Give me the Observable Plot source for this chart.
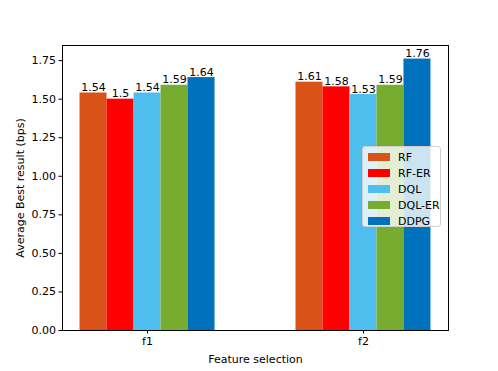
<!DOCTYPE html>
<html>
<head>
<meta charset="utf-8">
<script src="https://cdn.jsdelivr.net/npm/d3@7"></script>
<script src="https://cdn.jsdelivr.net/npm/@observablehq/plot@0.6"></script>
<style>
  body { margin: 0; background: white; }
  #wrap { position: relative; width: 498px; height: 371px; font-family: "DejaVu Sans", sans-serif; }
  #legend { position: absolute; left: 362px; top: 146px; width: 79px; height: 81px; box-sizing: border-box;
    background: rgba(255,255,255,0.8); border: 1px solid #d0d0d0; border-radius: 3px; font-size: 11px; }
  .row { position: absolute; left: 5px; height: 16px; display: flex; align-items: center; }
  .sw { width: 22px; height: 8px; margin-right: 8px; }
</style>
</head>
<body>
<div id="wrap"><div id="legend"></div></div>
<script>
const groups = ["f1", "f2"];
const series = ["RF", "RF-ER", "DQL", "DQL-ER", "DDPG"];
const colors = ["#D95319", "#FF0000", "#4DBEEE", "#77AC30", "#0072BD"];
const valuesF1 = [1.54, 1.5, 1.54, 1.59, 1.64];
const valuesF2 = [1.61, 1.58, 1.53, 1.59, 1.76];
const yTicks = [0, 0.25, 0.5, 0.75, 1.0, 1.25, 1.5, 1.75];

const groupValues = [valuesF1, valuesF2];
const w = 0.125;
const data = groups.flatMap((g, gi) => series.map((s, si) => ({
  group: g, series: s, value: groupValues[gi][si],
  x1: gi + (si - 2.5) * w, x2: gi + (si - 1.5) * w, xc: gi + (si - 2) * w
})));

const chart = Plot.plot({
  width: 498, height: 371,
  marginLeft: 62, marginRight: 50, marginTop: 45, marginBottom: 41,
  x: {domain: [-0.39375, 1.39375]},
  y: {domain: [0, 1.848]},
  color: {domain: series, range: colors},
  style: {fontFamily: "DejaVu Sans", fontSize: "11px", color: "black", background: "white"},
  marks: [
    Plot.rectY(data, {x1: "x1", x2: "x2", y1: 0, y2: "value", fill: "series", inset: 0}),
    Plot.text(data, {x: "xc", y: "value", text: d => String(d.value), dy: -2, lineAnchor: "bottom", fill: "black"}),
    Plot.frame({stroke: "black", strokeWidth: 1}),
    Plot.axisY({ticks: yTicks, tickFormat: d => d.toFixed(2), tickSize: 3.5, tickPadding: 3,
      label: "Average Best result (bps)", labelAnchor: "center", labelArrow: "none", labelOffset: 46}),
    Plot.axisX({ticks: [0, 1], tickFormat: i => groups[i], tickSize: 3.5, tickPadding: 3,
      label: "Feature selection", labelAnchor: "center", labelArrow: "none", labelOffset: 32})
  ]
});
document.getElementById("wrap").prepend(chart);

const legend = document.getElementById("legend");
series.forEach((s, i) => {
  const row = document.createElement("div");
  row.className = "row";
  row.style.top = (2 + i * 16) + "px";
  row.innerHTML = `<div class="sw" style="background:${colors[i]}"></div><span>${s}</span>`;
  legend.appendChild(row);
});
</script>
</body>
</html>
